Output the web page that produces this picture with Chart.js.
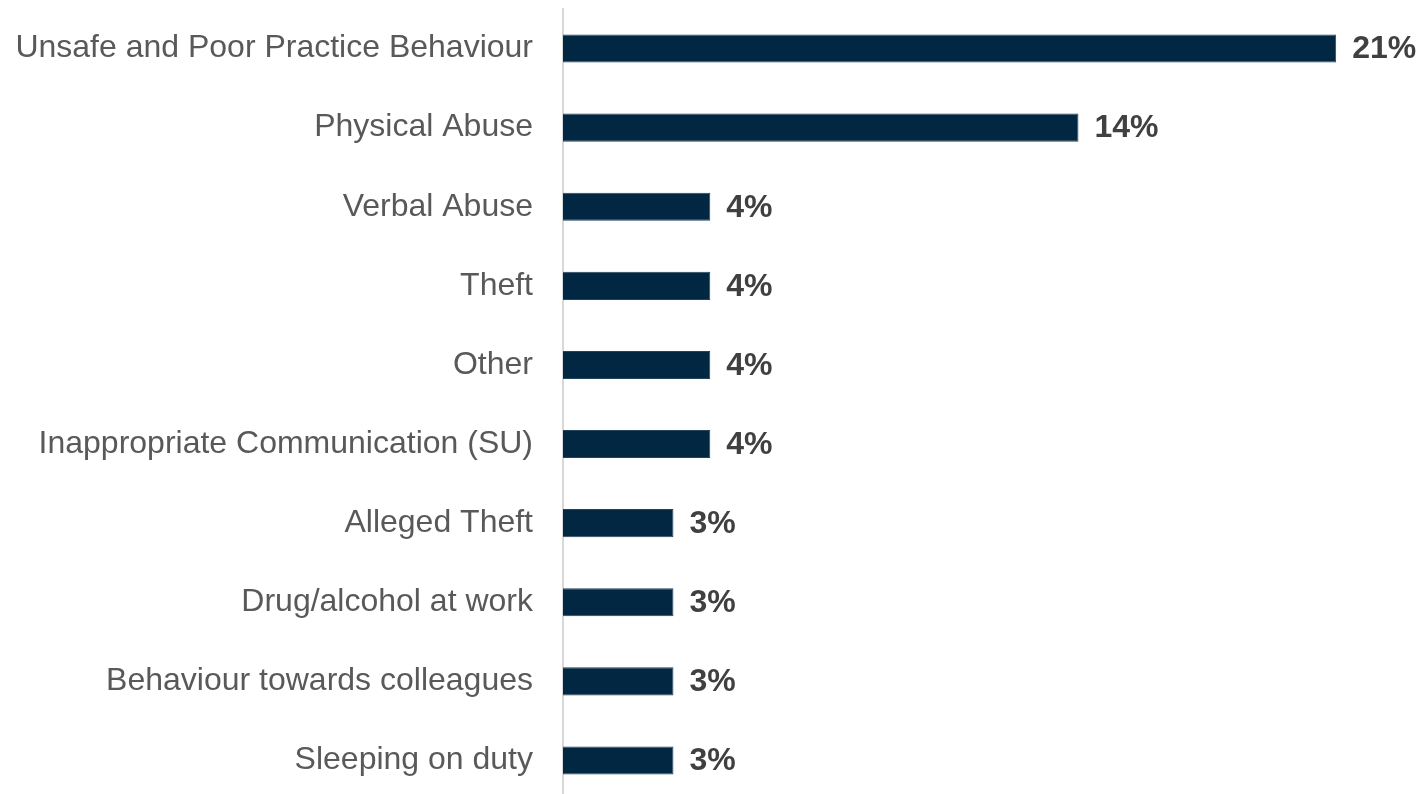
<!DOCTYPE html>
<html>
<head>
<meta charset="utf-8">
<title>Allegation categories</title>
<script src="https://cdn.jsdelivr.net/npm/chart.js@4"></script>
<style>
    html, body { margin: 0; padding: 0; background: #fff; overflow: hidden; }
    #wrap { position: absolute; left: 0; top: 0; }
</style>
</head>
<body>
<div id="wrap"><canvas id="chart" width="1422" height="801"></canvas></div>
<script>
// Datos del gráfico
const categories = [
    'Unsafe and Poor Practice Behaviour',
    'Physical Abuse',
    'Verbal Abuse',
    'Theft',
    'Other',
    'Inappropriate Communication (SU)',
    'Alleged Theft',
    'Drug/alcohol at work',
    'Behaviour towards colleagues',
    'Sleeping on duty'
];
const percentages = [21, 14, 4, 4, 4, 4, 3, 3, 3, 3];

const FONT = "'Liberation Sans', Arial, sans-serif";

// Etiquetas de valor al final de cada barra
const valueLabels = {
    id: 'valueLabels',
    afterDatasetsDraw(chart) {
        const ctx = chart.ctx;
        const meta = chart.getDatasetMeta(0);
        ctx.save();
        ctx.font = `bold 32px ${FONT}`;
        ctx.fillStyle = '#404040';
        ctx.textAlign = 'left';
        ctx.textBaseline = 'middle';
        meta.data.forEach((bar, i) => {
            ctx.fillText(percentages[i] + '%', bar.x + 16, bar.y + 1);
        });
        ctx.restore();
    }
};

new Chart(document.getElementById('chart'), {
    type: 'bar',
    data: {
        labels: categories,
        datasets: [{
            data: percentages,
            backgroundColor: '#022742',
            borderColor: '#24445e',
            borderWidth: 1,
            borderSkipped: 'left',
            barPercentage: 0.355,
            categoryPercentage: 1
        }]
    },
    options: {
        indexAxis: 'y',
        responsive: false,
        animation: false,
        devicePixelRatio: 1,
        layout: { padding: { top: 9, right: 49, bottom: 1, left: 0 } },
        plugins: {
            legend: { display: false },
            tooltip: { enabled: false }
        },
        scales: {
            x: {
                display: false,
                min: 0,
                max: 22
            },
            y: {
                grid: { display: false, drawTicks: false },
                border: { display: true, color: '#d9d9d9', width: 2 },
                ticks: {
                    autoSkip: false,
                    padding: 30,
                    color: '#595959',
                    font: { family: FONT, size: 32 }
                },
                afterFit(scale) {
                    scale.width = 563;
                    scale.paddingTop = 0;
                    scale.paddingBottom = 0;
                }
            }
        }
    },
    plugins: [valueLabels]
});
</script>
</body>
</html>
